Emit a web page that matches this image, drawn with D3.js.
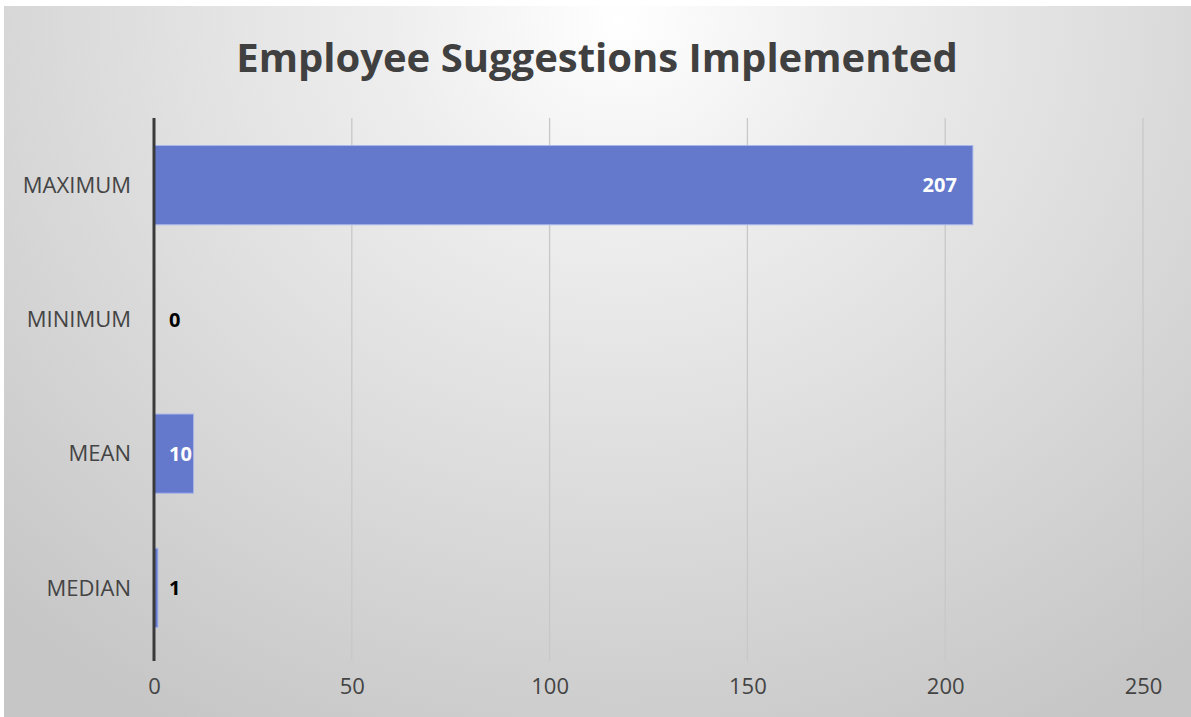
<!DOCTYPE html>
<html><head><meta charset="utf-8">
<script src="https://cdn.jsdelivr.net/npm/d3@7"></script>
<style>body{margin:0;background:#fff}svg{display:block}</style>
</head><body>
<svg id="c" width="1191" height="717"></svg>
<script>
const categories = ["MAXIMUM","MINIMUM","MEAN","MEDIAN"];
const values = [207, 0, 10, 1];
const xTicks = [0, 50, 100, 150, 200, 250];
const title = "Employee Suggestions Implemented";

(function(){
const svg = d3.select("#c");
const W = 1191, H = 717;
const defs = svg.append("defs");
const g = defs.append("radialGradient").attr("id","bg")
  .attr("gradientUnits","userSpaceOnUse").attr("cx",620).attr("cy",20).attr("r",900)
  .attr("gradientTransform","translate(620,20) scale(1,0.9) translate(-620,-20)");
g.append("stop").attr("offset","0").attr("stop-color","#ffffff");
g.append("stop").attr("offset","0.25").attr("stop-color","#eeeeee");
g.append("stop").attr("offset","1").attr("stop-color","#c6c6c6");
svg.append("rect").attr("x",4).attr("y",6).attr("width",W-4).attr("height",H-6).attr("fill","url(#bg)");

const pL = 154, pR = 1143, pT = 118, pB = 655;
const x = d3.scaleLinear().domain([0,250]).range([pL,pR]);
const y = d3.scaleBand().domain(categories).range([pT,pB]).paddingInner(0.41).paddingOuter(0.205);

svg.append("g").selectAll("line").data(xTicks.slice(1)).join("line")
  .attr("x1",d=>x(d)).attr("x2",d=>x(d)).attr("y1",pT).attr("y2",pB+6)
  .attr("stroke","#c8c8c8").attr("stroke-width",1.3);

svg.append("g").selectAll("rect").data(values).join("rect")
  .attr("x",x(0)).attr("y",(d,i)=>y(categories[i]))
  .attr("width",d=>x(d)-x(0)).attr("height",y.bandwidth())
  .attr("fill","#6479cc").attr("stroke","#a9b6ea").attr("stroke-width",1)
  .attr("display",d=>d>0?null:"none");

svg.append("line").attr("x1",x(0)).attr("x2",x(0)).attr("y1",pT).attr("y2",pB+6)
  .attr("stroke","#3a3a3a").attr("stroke-width",3);

const xa = svg.append("g").attr("transform",`translate(0,${pB})`)
  .call(d3.axisBottom(x).tickValues(xTicks).tickSize(0).tickPadding(0));
xa.select(".domain").remove();
xa.selectAll("text").attr("y",39).attr("dy",null).attr("fill","#444")
  .style("font-family","'Open Sans', sans-serif").style("font-size","22px");

const ya = svg.append("g").attr("transform",`translate(131,0)`)
  .call(d3.axisLeft(y).tickSize(0).tickPadding(0));
ya.select(".domain").remove();
ya.selectAll("text").attr("fill","#444").attr("dy","0.35em")
  .style("font-family","'Open Sans', sans-serif").style("font-size","22px");

svg.append("g").selectAll("text").data(values).join("text")
  .attr("x",(d,i)=> d>=100 ? x(d)-16 : x(0)+15)
  .attr("text-anchor",d=>d>=100?"end":"start")
  .attr("y",(d,i)=>y(categories[i])+y.bandwidth()/2)
  .attr("dy","0.36em")
  .attr("fill",d=>d>=5?"#ffffff":"#000000")
  .style("font-family","'Open Sans', sans-serif").style("font-size","20px").style("font-weight","bold")
  .text(d=>d);

svg.append("text").attr("x",597).attr("y",72).attr("text-anchor","middle")
  .attr("fill","#404040").style("font-family","'Open Sans', sans-serif")
  .style("font-size","40px").style("font-weight","bold").text(title);
})();
</script>
</body></html>
